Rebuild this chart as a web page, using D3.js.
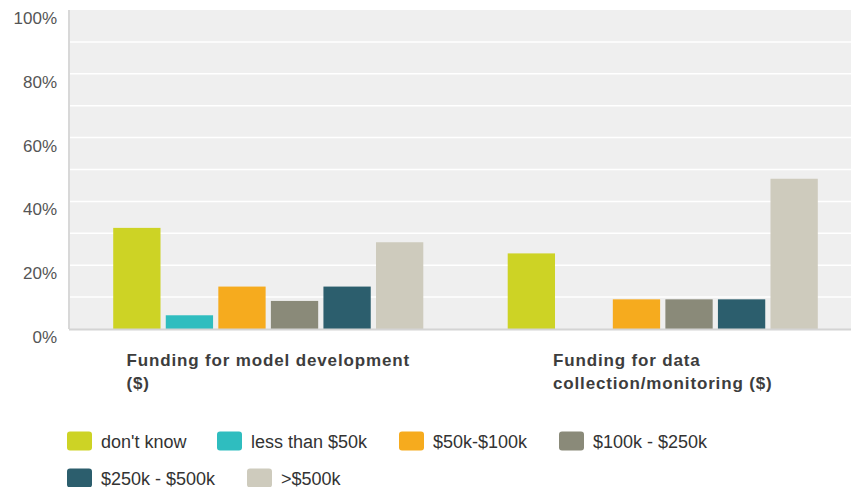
<!DOCTYPE html>
<html>
<head>
<meta charset="utf-8">
<script src="https://cdn.jsdelivr.net/npm/d3@7"></script>
<style>
  html, body { margin: 0; padding: 0; background: #fff; }
  svg { display: block; }
</style>
</head>
<body>
<svg id="chart" width="851" height="487"></svg>
<script>
const groups = ["Funding for model development ($)", "Funding for data collection/monitoring ($)"];
const groupLines = [["Funding for model development", "($)"], ["Funding for data", "collection/monitoring ($)"]];
const seriesNames = ["don't know", "less than $50k", "$50k-$100k", "$100k - $250k", "$250k - $500k", ">$500k"];
const seriesColors = ["#cdd325", "#2fbdbf", "#f6ab1e", "#8a8a79", "#2c5e6d", "#cecbbd"];
const modelDev = [31.7, 4.3, 13.3, 8.8, 13.3, 27.2];
const dataCollection = [23.7, 0, 9.3, 9.3, 9.3, 47.1];
const yTicks = [0, 20, 40, 60, 80, 100];
const gridTicks = [10, 20, 30, 40, 50, 60, 70, 80, 90];

const values = [modelDev, dataCollection];
const svg = d3.select("#chart");

const plotLeft = 69, plotRight = 851, plotTop = 10, plotBottom = 329;

const y = d3.scaleLinear().domain([0, 100]).range([plotBottom, plotTop]);
const x0 = d3.scaleBand().domain(groups).range([71, 860]).paddingInner(0.214).paddingOuter(0.107);
const x1 = d3.scaleBand().domain(seriesNames).range([0, x0.bandwidth()]).paddingInner(0.1);

// background
svg.append("rect").attr("x", plotLeft).attr("y", plotTop)
  .attr("width", plotRight - plotLeft).attr("height", plotBottom - plotTop)
  .attr("fill", "#efefef");

// gridlines
svg.append("g").selectAll("line").data(gridTicks).join("line")
  .attr("x1", plotLeft + 1).attr("x2", plotRight)
  .attr("y1", d => y(d)).attr("y2", d => y(d))
  .attr("stroke", "#ffffff").attr("stroke-width", 1.5);

// y axis labels
const yAxis = d3.axisLeft(y).tickValues(yTicks).tickFormat(d => d + "%").tickSize(0).tickPadding(0);
const yg = svg.append("g").attr("transform", `translate(57,8)`).call(yAxis);
yg.select(".domain").remove();
yg.selectAll("text").attr("fill", "#555").style("font-family", "'Liberation Sans', Arial, sans-serif").style("font-size", "17px");

// left axis line
svg.append("line").attr("x1", plotLeft).attr("x2", plotLeft).attr("y1", plotTop).attr("y2", plotBottom)
  .attr("stroke", "#d8d8d8").attr("stroke-width", 2);

// bars
const gs = svg.append("g").selectAll("g").data(groups).join("g")
  .attr("transform", d => `translate(${x0(d)},0)`);
gs.selectAll("rect").data((g, gi) => seriesNames.map((s, si) => ({ s, si, v: values[gi][si] }))).join("rect")
  .attr("x", d => x1(d.s)).attr("width", x1.bandwidth())
  .attr("y", d => y(d.v)).attr("height", d => plotBottom - y(d.v))
  .attr("fill", d => seriesColors[d.si]);

// baseline
svg.append("line").attr("x1", plotLeft).attr("x2", plotRight).attr("y1", plotBottom + 0.5).attr("y2", plotBottom + 0.5)
  .attr("stroke", "#d4d4d4").attr("stroke-width", 2);

// category labels
groups.forEach((g, gi) => {
  const cx = x0(g) + x0.bandwidth() / 2;
  const t = svg.append("text")
    .attr("fill", "#3d3d3d")
    .style("font-family", "'Liberation Sans', Arial, sans-serif")
    .style("font-weight", "bold").style("font-size", "17px").style("letter-spacing", "0.85px");
  const tsp = t.selectAll("tspan").data(groupLines[gi]).join("tspan")
    .attr("y", (d, i) => 366 + i * 23).text(d => d);
  let maxW = 0;
  tsp.each(function () { maxW = Math.max(maxW, this.getComputedTextLength()); });
  tsp.attr("x", cx - maxW / 2);
});

// legend
const legendPos = [[67, 441], [217, 441], [399, 441], [559, 441], [67, 478], [247, 478]];
const lg = svg.append("g").selectAll("g").data(seriesNames).join("g")
  .attr("transform", (d, i) => `translate(${legendPos[i][0]},${legendPos[i][1]})`);
lg.append("rect").attr("x", 0).attr("y", -9.5).attr("width", 25).attr("height", 19).attr("rx", 3)
  .attr("fill", (d, i) => seriesColors[i]);
lg.append("text").attr("x", 34).attr("y", 6.5).text(d => d)
  .attr("fill", "#333")
  .style("font-family", "'Liberation Sans', Arial, sans-serif").style("font-size", "18px");
</script>
</body>
</html>
